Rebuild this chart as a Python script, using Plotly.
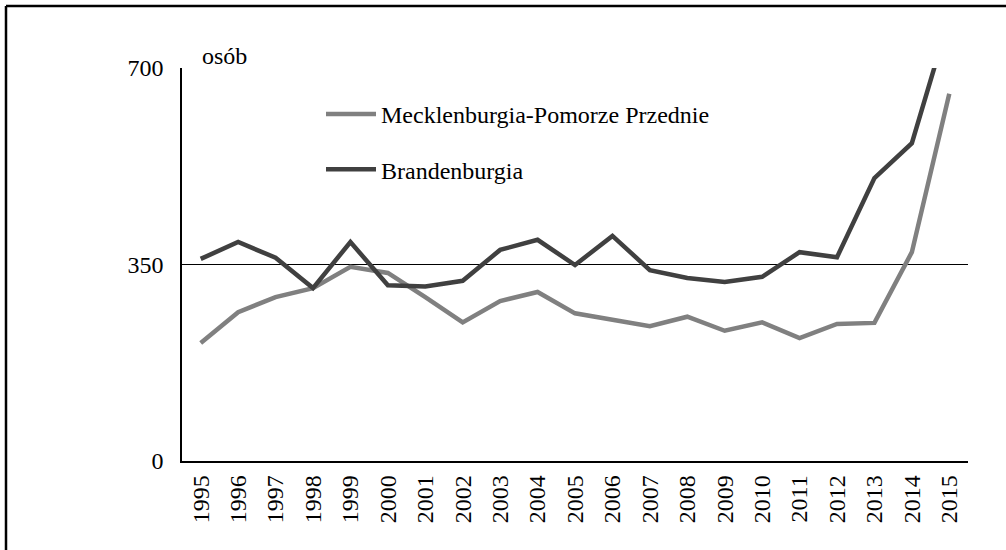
import plotly.graph_objects as go

years = [str(y) for y in range(1995, 2016)]
meck = [210, 265, 292, 308, 346, 335, 292, 247, 285, 301, 263, 252, 240, 257, 232, 247, 219, 244, 246, 372, 654]
brand = [360, 390, 362, 308, 390, 313, 311, 321, 376, 394, 349, 401, 340, 326, 319, 328, 372, 363, 504, 566, 790]
y_ticks = [0, 350, 700]

FONT = "'Liberation Serif', 'Times New Roman', Times, serif"
L, R, T, B = 182, 38, 68, 89
W, H = 1006, 550
pw, ph = W - L - R, H - T - B
FS = 24

fig = go.Figure()
fig.add_trace(go.Scatter(x=years, y=meck, mode="lines", name="Mecklenburgia-Pomorze Przednie",
                         line=dict(color="#808080", width=4.5), legendgroup="a"))
fig.add_trace(go.Scatter(x=years, y=brand, mode="lines", name="Brandenburgia",
                         line=dict(color="#404040", width=4.5), legendgroup="b"))

fig.update_layout(
    width=W, height=H,
    margin=dict(l=L, r=R, t=T, b=B, pad=0),
    paper_bgcolor="white", plot_bgcolor="white",
    font=dict(family=FONT, size=FS, color="black"),
    legend=dict(x=(321 - L) / pw, y=(H - B - 92) / ph, xanchor="left", yanchor="top",
                bgcolor="rgba(0,0,0,0)", font=dict(size=FS, family=FONT),
                tracegroupgap=21, traceorder="grouped", itemwidth=50),
    xaxis=dict(type="category", range=[-0.5, 20.5], showgrid=False, showline=True,
               linecolor="black", linewidth=1.5,
               tickangle=-90, ticks="outside", ticklen=3, tickcolor="white",
               tickfont=dict(size=FS, family=FONT)),
    yaxis=dict(range=[0, 700], tickvals=y_ticks, showgrid=True, gridcolor="black", gridwidth=1,
               showline=True, linecolor="black", linewidth=1.5, zeroline=False,
               ticks="outside", ticklen=12, tickcolor="white",
               tickfont=dict(size=FS, family=FONT)),
    annotations=[dict(text="osób", xref="paper", yref="paper", x=(200 - L) / pw, y=1.0,
                      xanchor="left", yanchor="bottom", showarrow=False, yshift=-3,
                      font=dict(size=FS, family=FONT))],
    shapes=[
        dict(type="line", xref="paper", yref="paper", x0=(6 - L) / pw, x1=(W + 5 - L) / pw,
             y0=(H - B - 6) / ph, y1=(H - B - 6) / ph, line=dict(color="black", width=2.5)),
        dict(type="line", xref="paper", yref="paper", x0=(6 - L) / pw, x1=(6 - L) / pw,
             y0=(H - B - 6) / ph, y1=(H - B - W) / ph, line=dict(color="black", width=2.5)),
    ],
)

fig.write_html("out.html", config={"displayModeBar": False},
               post_script="document.body.style.margin='0';document.body.style.overflow='hidden';")
